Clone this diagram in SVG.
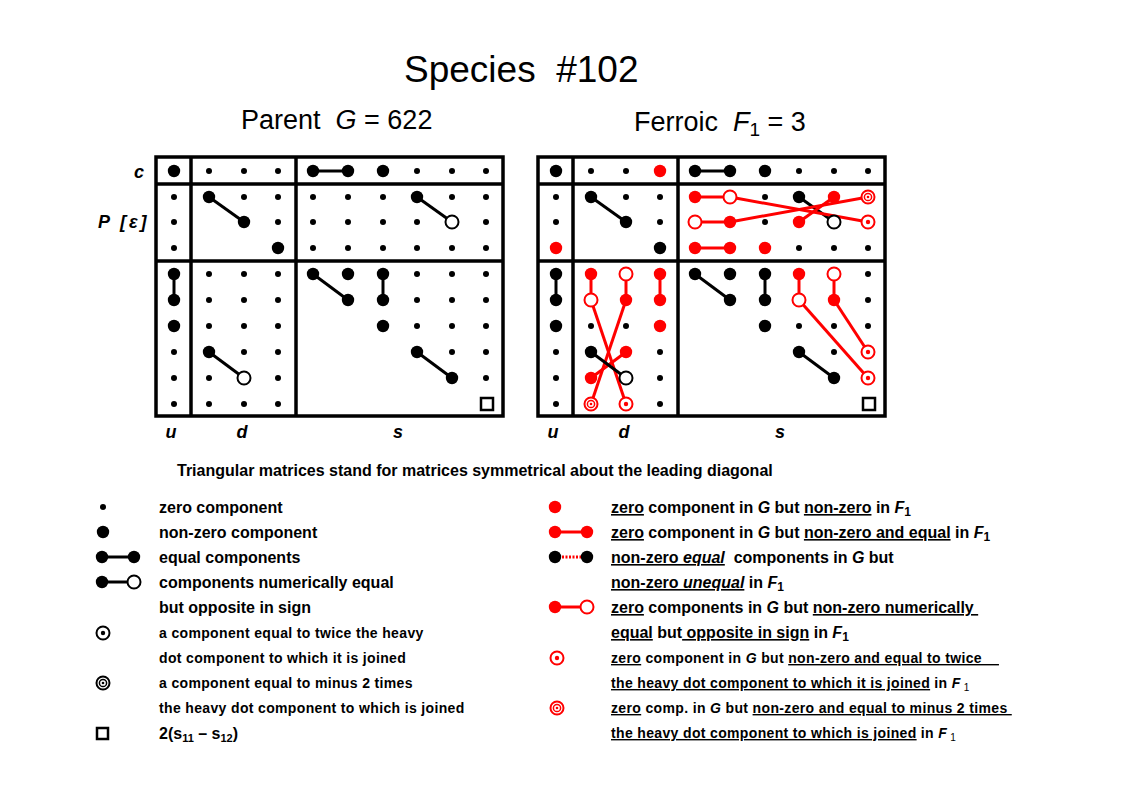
<svg xmlns="http://www.w3.org/2000/svg" xmlns:xlink="http://www.w3.org/1999/xlink" width="1123" height="794" viewBox="0 0 1123 794">
<style>
text{font-family:"Liberation Sans",Arial,sans-serif;fill:#000}
.lab{font-weight:bold;font-style:italic;font-size:18px}
.lg{font-weight:bold;font-size:16px}
.ls{font-weight:bold;font-size:14px;letter-spacing:0.35px}
.u{text-decoration:underline}
.i{font-style:italic}
.frame{fill:none;stroke:#000;stroke-width:3.5}
.div{stroke:#000;stroke-width:3.5}
.lk{stroke:#000;stroke-width:3;fill:none}
.lr{stroke:#f00;stroke-width:3;fill:none}
.ld{stroke:#f00;stroke-width:3;stroke-dasharray:2 1.5;fill:none}
.sq{fill:#fff;stroke:#000;stroke-width:2.5}
</style>
<defs>
<circle id="z" r="3" fill="#000"/>
<circle id="h" r="6.2" fill="#000"/>
<circle id="hr" r="6.2" fill="#f00"/>
<circle id="o" r="6.5" fill="#fff" stroke="#000" stroke-width="2"/>
<circle id="or" r="6.5" fill="#fff" stroke="#f00" stroke-width="2"/>
<g id="tw"><circle r="6.5" fill="#fff" stroke="#000" stroke-width="2"/><circle r="2.2" fill="#000"/></g>
<g id="m2"><circle r="6.5" fill="#fff" stroke="#000" stroke-width="2"/><circle r="3.6" fill="none" stroke="#000" stroke-width="1.5"/><circle r="1.3" fill="#000"/></g>
<g id="twr"><circle r="6.5" fill="#fff" stroke="#f00" stroke-width="2"/><circle r="2.2" fill="#f00"/></g>
<g id="m2r"><circle r="6.5" fill="#fff" stroke="#f00" stroke-width="2"/><circle r="3.6" fill="none" stroke="#f00" stroke-width="1.5"/><circle r="1.3" fill="#f00"/></g>
</defs>
<rect width="1123" height="794" fill="#fff"/>

<g id="titles">
<text x="404" y="82" font-size="37">Species&#160; #102</text>
<text x="241" y="129" font-size="27">Parent&#160; <tspan class="i">G</tspan> = 622</text>
<text x="634" y="131" font-size="27">Ferroic&#160; <tspan class="i">F</tspan><tspan font-size="19" dy="5">1</tspan><tspan dy="-5"> = 3</tspan></text>
</g>

<g id="frames">
<rect class="frame" x="156" y="157" width="347" height="259"/>
<line class="div" x1="191" y1="157" x2="191" y2="416"/>
<line class="div" x1="296" y1="157" x2="296" y2="416"/>
<line class="div" x1="156" y1="184" x2="503" y2="184"/>
<line class="div" x1="156" y1="261" x2="503" y2="261"/>
<rect class="frame" x="538" y="157" width="347" height="259"/>
<line class="div" x1="573" y1="157" x2="573" y2="416"/>
<line class="div" x1="678" y1="157" x2="678" y2="416"/>
<line class="div" x1="538" y1="184" x2="885" y2="184"/>
<line class="div" x1="538" y1="261" x2="885" y2="261"/>
</g>

<g id="connectors">
<!-- left matrix -->
<line class="lk" x1="313" y1="171" x2="348" y2="171"/>
<line class="lk" x1="209" y1="197" x2="244" y2="222"/>
<line class="lk" x1="417" y1="197" x2="452" y2="222"/>
<line class="lk" x1="174" y1="274" x2="174" y2="300"/>
<line class="lk" x1="209" y1="352" x2="244" y2="378"/>
<line class="lk" x1="313" y1="274" x2="348" y2="300"/>
<line class="lk" x1="383" y1="274" x2="383" y2="300"/>
<line class="lk" x1="417" y1="352" x2="452" y2="378"/>
<!-- right matrix -->
<line class="lk" x1="695" y1="171" x2="730" y2="171"/>
<line class="lk" x1="591" y1="197" x2="626" y2="222"/>
<line class="lr" x1="695" y1="197" x2="730" y2="197"/>
<line class="lr" x1="695" y1="222" x2="730" y2="222"/>
<line class="lr" x1="695" y1="248" x2="730" y2="248"/>
<line class="lk" x1="799" y1="197" x2="834" y2="222"/>
<line class="lr" x1="730" y1="197" x2="868" y2="222"/>
<line class="lr" x1="730" y1="222" x2="868" y2="197"/>
<line class="lr" x1="799" y1="222" x2="834" y2="197"/>
<line class="lk" x1="556" y1="274" x2="556" y2="300"/>
<line class="lr" x1="591" y1="274" x2="591" y2="300"/>
<line class="lr" x1="626" y1="274" x2="626" y2="300"/>
<line class="lr" x1="660" y1="274" x2="660" y2="300"/>
<line class="lr" x1="591" y1="300" x2="626" y2="404"/>
<line class="lr" x1="626" y1="300" x2="591" y2="404"/>
<line class="lr" x1="591" y1="378" x2="626" y2="352"/>
<line class="lk" x1="591" y1="352" x2="626" y2="378"/>
<line class="lk" x1="695" y1="274" x2="730" y2="300"/>
<line class="lk" x1="765" y1="274" x2="765" y2="300"/>
<line class="lr" x1="799" y1="274" x2="799" y2="300"/>
<line class="lr" x1="834" y1="274" x2="834" y2="300"/>
<line class="lr" x1="799" y1="300" x2="868" y2="378"/>
<line class="lr" x1="834" y1="300" x2="868" y2="352"/>
<line class="lk" x1="799" y1="352" x2="834" y2="378"/>
<!-- legend connectors -->
<line class="lk" x1="102" y1="557" x2="134" y2="557"/>
<line class="lk" x1="102" y1="582" x2="134" y2="582"/>
<line class="lr" x1="555" y1="532" x2="587" y2="532"/>
<line class="ld" x1="555" y1="557" x2="587" y2="557"/>
<line class="lr" x1="555" y1="607" x2="587" y2="607"/>
</g>

<g id="matrix-G">
<!-- c row -->
<use href="#h" x="174" y="171"/><use href="#z" x="209" y="171"/><use href="#z" x="244" y="171"/><use href="#z" x="278" y="171"/>
<use href="#h" x="313" y="171"/><use href="#h" x="348" y="171"/><use href="#h" x="383" y="171"/><use href="#z" x="417" y="171"/><use href="#z" x="452" y="171"/><use href="#z" x="486" y="171"/>
<!-- P rows -->
<use href="#z" x="174" y="197"/><use href="#h" x="209" y="197"/><use href="#z" x="244" y="197"/><use href="#z" x="278" y="197"/>
<use href="#z" x="313" y="197"/><use href="#z" x="348" y="197"/><use href="#z" x="383" y="197"/><use href="#h" x="417" y="197"/><use href="#z" x="452" y="197"/><use href="#z" x="486" y="197"/>
<use href="#z" x="174" y="222"/><use href="#h" x="244" y="222"/><use href="#z" x="278" y="222"/>
<use href="#z" x="313" y="222"/><use href="#z" x="348" y="222"/><use href="#z" x="383" y="222"/><use href="#z" x="417" y="222"/><use href="#o" x="452" y="222"/><use href="#z" x="486" y="222"/>
<use href="#z" x="174" y="248"/><use href="#h" x="278" y="248"/>
<use href="#z" x="313" y="248"/><use href="#z" x="348" y="248"/><use href="#z" x="383" y="248"/><use href="#z" x="417" y="248"/><use href="#z" x="452" y="248"/><use href="#z" x="486" y="248"/>
<!-- lower u -->
<use href="#h" x="174" y="274"/><use href="#h" x="174" y="300"/><use href="#h" x="174" y="326"/><use href="#z" x="174" y="352"/><use href="#z" x="174" y="378"/><use href="#z" x="174" y="404"/>
<!-- lower d -->
<use href="#z" x="209" y="274"/><use href="#z" x="244" y="274"/><use href="#z" x="278" y="274"/>
<use href="#z" x="209" y="300"/><use href="#z" x="244" y="300"/><use href="#z" x="278" y="300"/>
<use href="#z" x="209" y="326"/><use href="#z" x="244" y="326"/><use href="#z" x="278" y="326"/>
<use href="#h" x="209" y="352"/><use href="#z" x="244" y="352"/><use href="#z" x="278" y="352"/>
<use href="#z" x="209" y="378"/><use href="#o" x="244" y="378"/><use href="#z" x="278" y="378"/>
<use href="#z" x="209" y="404"/><use href="#z" x="244" y="404"/><use href="#z" x="278" y="404"/>
<!-- lower s -->
<use href="#h" x="313" y="274"/><use href="#h" x="348" y="274"/><use href="#h" x="383" y="274"/><use href="#z" x="417" y="274"/><use href="#z" x="452" y="274"/><use href="#z" x="486" y="274"/>
<use href="#h" x="348" y="300"/><use href="#h" x="383" y="300"/><use href="#z" x="417" y="300"/><use href="#z" x="452" y="300"/><use href="#z" x="486" y="300"/>
<use href="#h" x="383" y="326"/><use href="#z" x="417" y="326"/><use href="#z" x="452" y="326"/><use href="#z" x="486" y="326"/>
<use href="#h" x="417" y="352"/><use href="#z" x="452" y="352"/><use href="#z" x="486" y="352"/>
<use href="#h" x="452" y="378"/><use href="#z" x="486" y="378"/>
<rect class="sq" x="481" y="398" width="12" height="12"/>
</g>

<g id="matrix-F1">
<use href="#h" x="556" y="171"/><use href="#z" x="591" y="171"/><use href="#z" x="626" y="171"/><use href="#hr" x="660" y="171"/>
<use href="#h" x="695" y="171"/><use href="#h" x="730" y="171"/><use href="#h" x="765" y="171"/><use href="#z" x="799" y="171"/><use href="#z" x="834" y="171"/><use href="#z" x="868" y="171"/>
<use href="#z" x="556" y="197"/><use href="#h" x="591" y="197"/><use href="#z" x="626" y="197"/><use href="#z" x="660" y="197"/>
<use href="#hr" x="695" y="197"/><use href="#or" x="730" y="197"/><use href="#z" x="765" y="197"/><use href="#h" x="799" y="197"/><use href="#hr" x="834" y="197"/><use href="#m2r" x="868" y="197"/>
<use href="#z" x="556" y="222"/><use href="#h" x="626" y="222"/><use href="#z" x="660" y="222"/>
<use href="#or" x="695" y="222"/><use href="#hr" x="730" y="222"/><use href="#z" x="765" y="222"/><use href="#hr" x="799" y="222"/><use href="#o" x="834" y="222"/><use href="#twr" x="868" y="222"/>
<use href="#hr" x="556" y="248"/><use href="#h" x="660" y="248"/>
<use href="#hr" x="695" y="248"/><use href="#hr" x="730" y="248"/><use href="#hr" x="765" y="248"/><use href="#z" x="799" y="248"/><use href="#z" x="834" y="248"/><use href="#z" x="868" y="248"/>
<use href="#h" x="556" y="274"/><use href="#h" x="556" y="300"/><use href="#h" x="556" y="326"/><use href="#z" x="556" y="352"/><use href="#z" x="556" y="378"/><use href="#z" x="556" y="404"/>
<use href="#hr" x="591" y="274"/><use href="#or" x="626" y="274"/><use href="#hr" x="660" y="274"/>
<use href="#or" x="591" y="300"/><use href="#hr" x="626" y="300"/><use href="#hr" x="660" y="300"/>
<use href="#z" x="591" y="326"/><use href="#z" x="626" y="326"/><use href="#hr" x="660" y="326"/>
<use href="#h" x="591" y="352"/><use href="#hr" x="626" y="352"/><use href="#z" x="660" y="352"/>
<use href="#hr" x="591" y="378"/><use href="#o" x="626" y="378"/><use href="#z" x="660" y="378"/>
<use href="#m2r" x="591" y="404"/><use href="#twr" x="626" y="404"/><use href="#z" x="660" y="404"/>
<use href="#h" x="695" y="274"/><use href="#h" x="730" y="274"/><use href="#h" x="765" y="274"/><use href="#hr" x="799" y="274"/><use href="#or" x="834" y="274"/><use href="#z" x="868" y="274"/>
<use href="#h" x="730" y="300"/><use href="#h" x="765" y="300"/><use href="#or" x="799" y="300"/><use href="#hr" x="834" y="300"/><use href="#z" x="868" y="300"/>
<use href="#h" x="765" y="326"/><use href="#z" x="799" y="326"/><use href="#z" x="834" y="326"/><use href="#z" x="868" y="326"/>
<use href="#h" x="799" y="352"/><use href="#z" x="834" y="352"/><use href="#twr" x="868" y="352"/>
<use href="#h" x="834" y="378"/><use href="#twr" x="868" y="378"/>
<rect class="sq" x="863" y="398" width="12" height="12"/>
</g>

<g id="axis-labels">
<text class="lab" x="139" y="178" text-anchor="middle">c</text>
<text class="lab" x="98" y="228">P<tspan x="120" letter-spacing="3">[ε]</tspan></text>
<text class="lab" x="171" y="438" text-anchor="middle">u</text>
<text class="lab" x="242" y="438" text-anchor="middle">d</text>
<text class="lab" x="398" y="438" text-anchor="middle">s</text>
<text class="lab" x="553" y="438" text-anchor="middle">u</text>
<text class="lab" x="624" y="438" text-anchor="middle">d</text>
<text class="lab" x="780" y="438" text-anchor="middle">s</text>
</g>

<text id="caption" class="lg" x="177" y="476">Triangular matrices stand for matrices symmetrical about the leading diagonal</text>

<g id="legend-left">
<use href="#z" x="103" y="507"/>
<use href="#h" x="103" y="532"/>
<use href="#h" x="102" y="557"/><use href="#h" x="134" y="557"/>
<use href="#h" x="102" y="582"/><use href="#o" x="134" y="582"/>
<use href="#tw" x="103" y="633"/>
<use href="#m2" x="103" y="683"/>
<rect class="sq" x="97" y="728" width="11" height="11"/>
<text class="lg" x="159" y="513">zero component</text>
<text class="lg" x="159" y="538">non-zero component</text>
<text class="lg" x="159" y="563">equal components</text>
<text class="lg" x="159" y="588">components numerically equal</text>
<text class="lg" x="159" y="613">but opposite in sign</text>
<text class="ls" x="159" y="638">a component equal to twice the heavy</text>
<text class="ls" x="159" y="663">dot component to which it is joined</text>
<text class="ls" x="159" y="688">a component equal to minus 2 times</text>
<text class="ls" x="159" y="713">the heavy dot component to which is joined</text>
<text class="lg" x="159" y="739">2(s<tspan font-size="11" dy="3">11</tspan><tspan dy="-3"> – s</tspan><tspan font-size="11" dy="3">12</tspan><tspan dy="-3">)</tspan></text>
</g>

<g id="legend-right">
<use href="#hr" x="555" y="507"/>
<use href="#hr" x="555" y="532"/><use href="#hr" x="587" y="532"/>
<use href="#h" x="555" y="557"/><use href="#h" x="587" y="557"/>
<use href="#hr" x="555" y="607"/><use href="#or" x="587" y="607"/>
<use href="#twr" x="557" y="658"/>
<use href="#m2r" x="557" y="708"/>
<text class="lg" x="611" y="513" xml:space="preserve"><tspan class="u">zero</tspan> component in <tspan class="i">G</tspan> but <tspan class="u">non-zero</tspan> in <tspan class="i">F</tspan><tspan font-size="12" dy="3">1</tspan></text>
<text class="lg" x="611" y="538" xml:space="preserve"><tspan class="u">zero</tspan> component in <tspan class="i">G</tspan> but <tspan class="u">non-zero and equal</tspan> in <tspan class="i">F</tspan><tspan font-size="12" dy="3">1</tspan></text>
<text class="lg" x="611" y="563" xml:space="preserve"><tspan class="u">non-zero <tspan class="i">equal</tspan></tspan>  components in <tspan class="i">G</tspan> but</text>
<text class="lg" x="611" y="588" xml:space="preserve"><tspan class="u">non-zero <tspan class="i">unequal</tspan></tspan> in <tspan class="i">F</tspan><tspan font-size="12" dy="3">1</tspan></text>
<text class="lg" x="611" y="613" xml:space="preserve"><tspan class="u">zero</tspan> components in <tspan class="i">G</tspan> but <tspan class="u">non-zero numerically </tspan></text>
<text class="lg" x="611" y="638" xml:space="preserve"><tspan class="u">equal</tspan> but<tspan class="u"> opposite in sign</tspan> in <tspan class="i">F</tspan><tspan font-size="12" dy="3">1</tspan></text>
<text class="ls" x="611" y="663" xml:space="preserve"><tspan class="u">zero</tspan> component in <tspan class="i">G</tspan> but <tspan class="u">non-zero and equal to twice    </tspan></text>
<text class="ls" x="611" y="688" xml:space="preserve"><tspan class="u">the heavy dot component to which it is joined</tspan> in <tspan class="i">F</tspan><tspan font-size="10" font-weight="normal" dy="3"> 1</tspan></text>
<text class="ls" x="611" y="713" xml:space="preserve"><tspan class="u">zero</tspan> comp. in <tspan class="i">G</tspan> but <tspan class="u">non-zero and equal to minus 2 times </tspan></text>
<text class="ls" x="611" y="738" xml:space="preserve"><tspan class="u">the heavy dot component to which is joined</tspan> in <tspan class="i">F</tspan><tspan font-size="10" font-weight="normal" dy="3"> 1</tspan></text>
</g>
</svg>
